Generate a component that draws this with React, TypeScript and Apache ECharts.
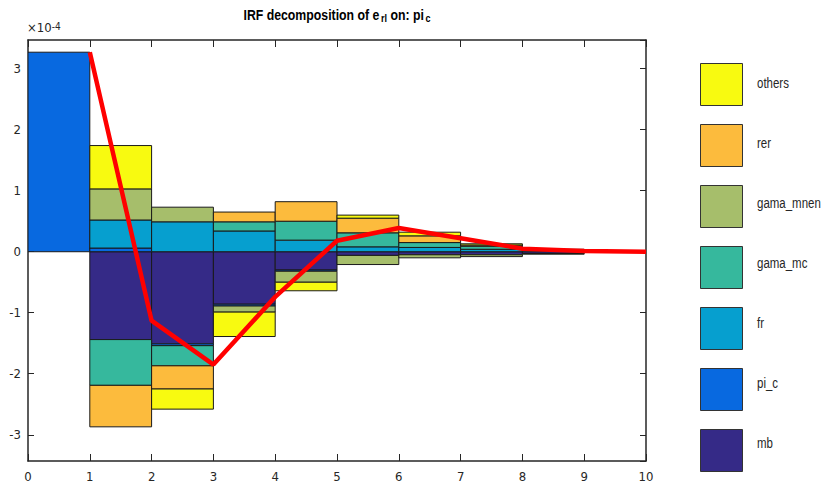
import React, { useEffect, useRef } from "react";
import * as echarts from "echarts";

// periods 1..10 ; values in units of 1e-4
const periods = [1, 2, 3, 4, 5, 6, 7, 8, 9, 10];
const stackOrder = ["mb", "pi_c", "fr", "gama_mc", "gama_mnen", "rer", "others"];
const legendOrder = ["others", "rer", "gama_mnen", "gama_mc", "fr", "pi_c", "mb"];

const mb = [0, -1.44, -1.51, -0.86, -0.3, -0.06, -0.05, -0.05, -0.03, -0.01];
const pi_c = [3.27, 0.06, -0.03, -0.03, -0.02, 0, 0, 0, 0, 0];
const fr = [0, 0.46, 0.49, 0.34, 0.19, 0.08, 0.07, 0.04, 0.02, 0.01];
const gama_mc = [0, -0.75, -0.33, 0.15, 0.31, 0.23, 0.08, 0.05, 0.02, 0];
const gama_mnen = [0, 0.51, 0.24, -0.1, -0.18, -0.15, -0.05, -0.03, -0.01, 0];
const rer = [0, -0.68, -0.38, 0.16, 0.32, 0.24, 0.11, 0.02, 0, 0];
const others = [0, 0.71, -0.33, -0.4, -0.14, 0.05, 0.06, 0.02, 0, 0];

const totalResponse = [3.27, -1.13, -1.85, -0.74, 0.18, 0.39, 0.22, 0.05, 0.01, 0.0];

const seriesValues: Record<string, number[]> = { mb, pi_c, fr, gama_mc, gama_mnen, rer, others };
const colors: Record<string, string> = {
  others: "#f8fa10",
  rer: "#fcbb3d",
  gama_mnen: "#a6be6b",
  gama_mc: "#36b89d",
  fr: "#069fcf",
  pi_c: "#0869e0",
  mb: "#352a87",
};

const FONT = '"Liberation Sans Narrow", "DejaVu Sans Condensed", "Liberation Sans", Arial, sans-serif';
const LFONT = '"Liberation Sans", Arial, sans-serif';
const INK = "#262626";
const NARROW = 0.82;

// legend layout (style)
const LEG_LEFT = 695;
const LEG_TOP = 58;
const LEG_BOX = 42;
const LEG_GAP = 18;

export default function App() {
  const ref = useRef<HTMLDivElement>(null);
  useEffect(() => {
    if (!ref.current) return;
    const chart = echarts.init(ref.current, undefined, { renderer: "svg" });

    const pos = periods.map(() => 0);
    const neg = periods.map(() => 0);
    const customSeries = stackOrder.map((name) => {
      const vals = seriesValues[name];
      const data: number[][] = [];
      vals.forEach((v, i) => {
        if (v === 0) return;
        const k = periods[i];
        if (v > 0) {
          data.push([k - 1, k, pos[i], pos[i] + v]);
          pos[i] += v;
        } else {
          data.push([k - 1, k, neg[i], neg[i] + v]);
          neg[i] += v;
        }
      });
      const color = colors[name];
      return {
        type: "custom",
        name,
        xAxisIndex: 0,
        yAxisIndex: 0,
        clip: true,
        itemStyle: { color, borderColor: "#1a1a1a", borderWidth: 1 },
        encode: { x: [0, 1], y: [2, 3] },
        data,
        renderItem: (params: any, api: any) => {
          const a = api.coord([api.value(0), api.value(2)]);
          const b = api.coord([api.value(1), api.value(3)]);
          return {
            type: "rect",
            shape: {
              x: a[0],
              y: Math.min(a[1], b[1]),
              width: b[0] - a[0],
              height: Math.abs(b[1] - a[1]),
            },
            style: { fill: color, stroke: "#1a1a1a", lineWidth: 1 },
          };
        },
      };
    });

    const axisCommon = {
      axisLine: { show: true, onZero: false, lineStyle: { color: INK, width: 1.5 } },
      splitLine: { show: false },
    };

    const legendLabels = legendOrder.map((n, i) => ({
      type: "text",
      x: LEG_LEFT + LEG_BOX + 20,
      y: LEG_TOP + LEG_BOX / 2 + 4 + i * (LEG_BOX + LEG_GAP),
      scaleX: NARROW,
      style: {
        text: n,
        fill: INK,
        fontSize: 14,
        fontFamily: LFONT,
        verticalAlign: "middle",
        align: "left",
      },
    }));

    chart.setOption({
      animation: false,
      backgroundColor: "#ffffff",
      grid: { left: 28, right: 179, top: 40, bottom: 31, containLabel: false },
      xAxis: [
        {
          type: "value",
          min: 0,
          max: 10,
          interval: 1,
          position: "bottom",
          ...axisCommon,
          axisTick: { inside: true, length: 7, lineStyle: { color: INK } },
          axisLabel: { fontSize: 13, color: INK, fontFamily: FONT, margin: 9 },
        },
        {
          type: "value",
          min: 0,
          max: 10,
          interval: 1,
          position: "top",
          ...axisCommon,
          axisTick: { inside: true, length: 7, lineStyle: { color: INK } },
          axisLabel: { show: false },
        },
      ],
      yAxis: [
        {
          type: "value",
          min: -3.43,
          max: 3.47,
          splitNumber: 7,
          position: "left",
          ...axisCommon,
          axisTick: { inside: true, length: 6, lineStyle: { color: INK } },
          axisLabel: {
            fontSize: 13,
            color: INK,
            fontFamily: FONT,
            margin: 7,
            showMinLabel: false,
            showMaxLabel: false,
          },
        },
        {
          type: "value",
          min: -3.43,
          max: 3.47,
          splitNumber: 7,
          position: "right",
          ...axisCommon,
          axisTick: { inside: true, length: 6, lineStyle: { color: INK } },
          axisLabel: { show: false },
        },
      ],
      legend: {
        orient: "vertical",
        left: LEG_LEFT,
        top: LEG_TOP,
        itemWidth: LEG_BOX,
        itemHeight: LEG_BOX,
        itemGap: LEG_GAP,
        icon: "rect",
        formatter: () => "",
        textStyle: { fontSize: 1, color: INK },
        data: legendOrder.map((n) => ({
          name: n,
          itemStyle: { color: colors[n], borderColor: "#333333", borderWidth: 1 },
        })),
      },
      graphic: [
        {
          type: "text",
          x: 337,
          y: 8,
          scaleX: NARROW,
          style: {
            text: "{a|IRF decomposition of e}{s|rl}{a| on: pi}{s|c}",
            align: "center",
            fill: "#000",
            rich: {
              a: { fontSize: 15, fontWeight: "bold", fontFamily: LFONT, lineHeight: 16, verticalAlign: "top", fill: "#000" },
              s: { fontSize: 11, fontWeight: "bold", fontFamily: LFONT, lineHeight: 11, padding: [9, 0, 0, 2], verticalAlign: "bottom", fill: "#000" },
            },
          },
        },
        {
          type: "text",
          x: 27,
          y: 21,
          style: {
            text: "{a|×10}{b|-4}",
            fill: INK,
            rich: {
              a: { fontSize: 13, fontFamily: FONT, lineHeight: 13, padding: [6, 0, 0, 0], verticalAlign: "bottom", fill: INK },
              b: { fontSize: 10, fontFamily: FONT, lineHeight: 10, verticalAlign: "top", fill: INK },
            },
          },
        },
        ...legendLabels,
      ],
      series: [
        ...customSeries,
        {
          type: "line",
          name: "total",
          xAxisIndex: 0,
          yAxisIndex: 0,
          data: periods.map((k, i) => [k, totalResponse[i]]),
          symbol: "none",
          z: 10,
          lineStyle: { color: "#ff0000", width: 4.5 },
          itemStyle: { color: "#ff0000" },
        },
      ],
    });
    return () => chart.dispose();
  }, []);
  return (
    <div
      ref={ref}
      style={{ position: "fixed", left: 0, top: 0, width: 825, height: 492, background: "#fff" }}
    />
  );
}
